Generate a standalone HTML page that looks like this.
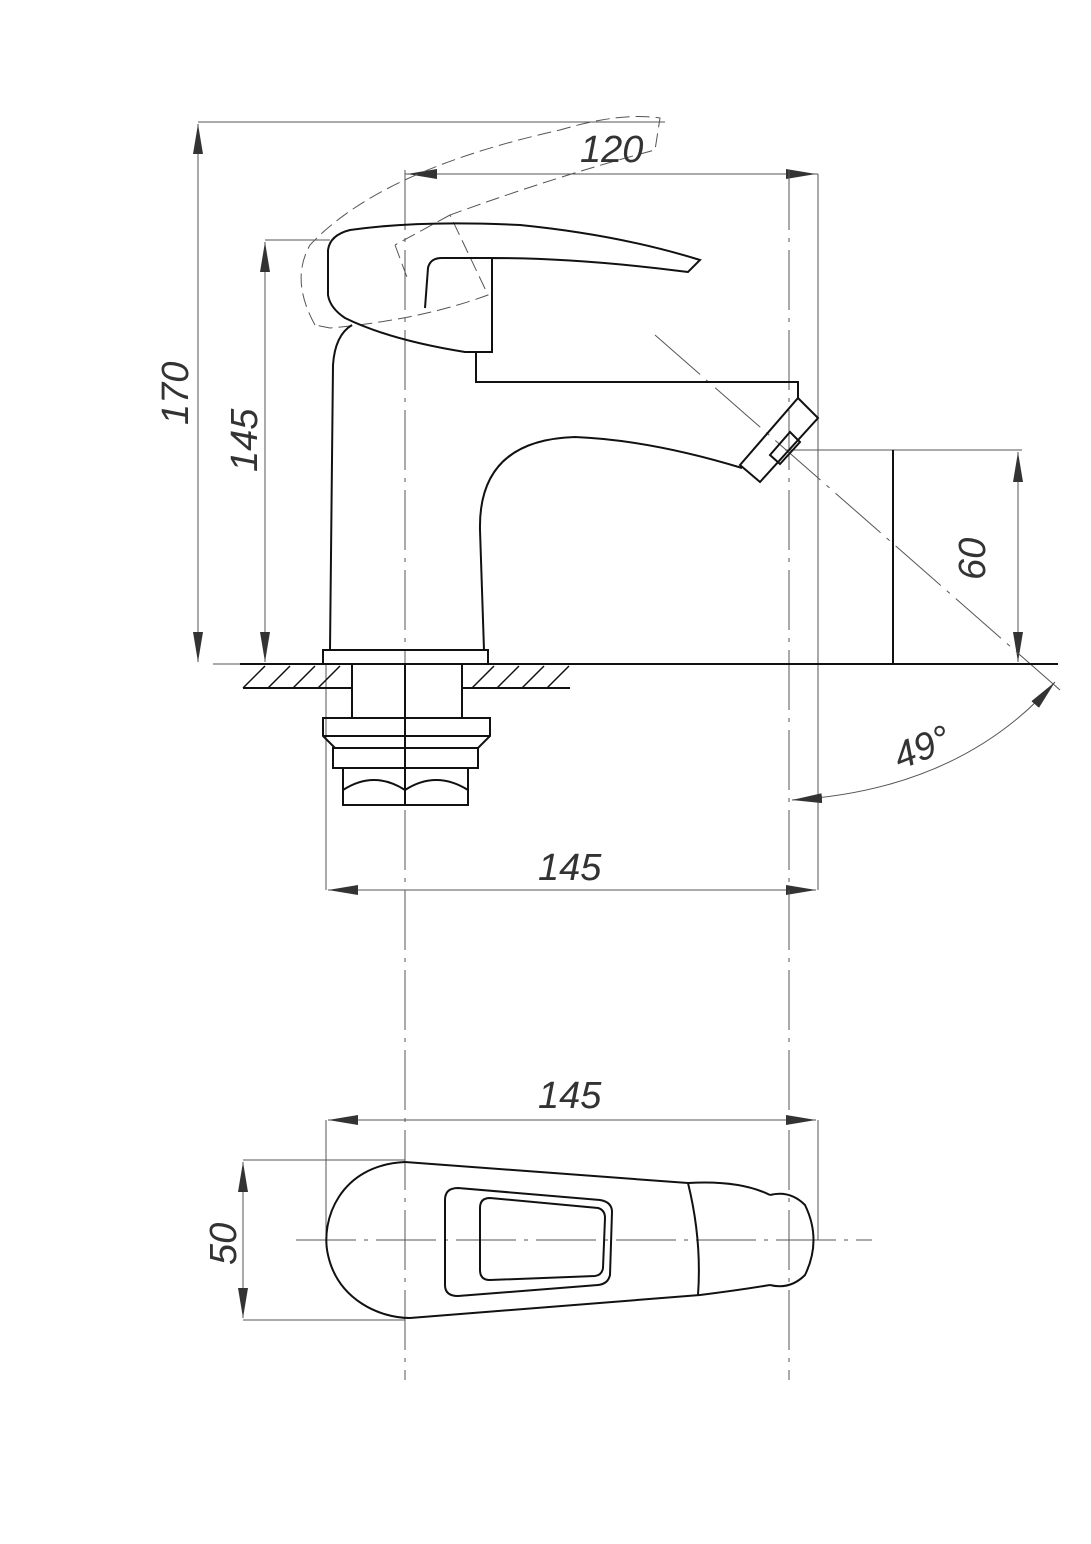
<!DOCTYPE html>
<html><head><meta charset="utf-8"><style>
html,body{margin:0;padding:0;background:#fff}
svg{display:block}
text{font-family:"Liberation Sans",sans-serif;font-style:italic;fill:#333;font-size:38px}
</style></head><body>
<svg width="1091" height="1544" viewBox="0 0 1091 1544" xmlns="http://www.w3.org/2000/svg">
<defs>
<marker id="a" viewBox="0 0 30 10" refX="30" refY="5" markerWidth="30" markerHeight="10" markerUnits="userSpaceOnUse" orient="auto-start-reverse"><path d="M0,0 L30,5 L0,10 z" fill="#333"/></marker>
</defs>
<g stroke="#555" stroke-width="1" fill="none">
<!-- extension lines -->
<line x1="198" y1="122" x2="665" y2="122"/>
<line x1="265" y1="240" x2="330" y2="240"/>
<line x1="405" y1="174" x2="818" y2="174"/>
<line x1="818" y1="174" x2="818" y2="890"/>
<line x1="326" y1="664" x2="326" y2="890"/>
<line x1="785" y1="450" x2="1022" y2="450"/>
<line x1="213" y1="664" x2="240" y2="664"/>
<!-- dims -->
<line x1="198" y1="124" x2="198" y2="662" marker-start="url(#a)" marker-end="url(#a)"/>
<line x1="265" y1="242" x2="265" y2="662" marker-start="url(#a)" marker-end="url(#a)"/>
<line x1="407" y1="174" x2="816" y2="174" marker-start="url(#a)" marker-end="url(#a)"/>
<line x1="1018" y1="452" x2="1018" y2="662" marker-start="url(#a)" marker-end="url(#a)"/>
<line x1="328" y1="890" x2="816" y2="890" marker-start="url(#a)" marker-end="url(#a)"/>
<path d="M792,800 Q960,790 1055,682" marker-start="url(#a)" marker-end="url(#a)"/>
<line x1="655" y1="335" x2="1060" y2="690" stroke-dasharray="60,8,4,8"/>
<!-- center lines -->
<line x1="405" y1="170" x2="405" y2="1380" stroke-dasharray="60,8,4,8"/>
<line x1="789" y1="170" x2="789" y2="1380" stroke-dasharray="60,8,4,8"/>
<!-- top view dims -->
<line x1="326" y1="1120" x2="326" y2="1240"/>
<line x1="818" y1="1120" x2="818" y2="1240"/>
<line x1="328" y1="1120" x2="816" y2="1120" marker-start="url(#a)" marker-end="url(#a)"/>
<line x1="243" y1="1160" x2="405" y2="1160"/>
<line x1="243" y1="1320" x2="405" y2="1320"/>
<line x1="243" y1="1162" x2="243" y2="1318" marker-start="url(#a)" marker-end="url(#a)"/>
<line x1="296" y1="1240" x2="872" y2="1240" stroke-dasharray="60,8,4,8"/>
<!-- dashed handle -->
<path d="M315,325 Q290,280 310,245 Q380,170 560,130 Q620,112 660,118 L655,150 Q560,175 450,215 L488,295 Q420,320 330,328 Z" stroke-dasharray="14,6"/>
<path d="M395,245 L408,280 M450,215 L395,245" stroke-dasharray="14,6"/>
</g>
<g stroke="#111" stroke-width="2" fill="none">
<line x1="240" y1="664" x2="1058" y2="664"/>
<line x1="893" y1="450" x2="893" y2="664"/>
<!-- hatch -->
<line x1="243" y1="688" x2="352" y2="688"/><line x1="462" y1="688" x2="570" y2="688"/>
<g stroke-width="1.5">
<line x1="243" y1="688" x2="265" y2="666"/><line x1="268" y1="688" x2="290" y2="666"/><line x1="293" y1="688" x2="315" y2="666"/><line x1="318" y1="688" x2="340" y2="666"/>
<line x1="472" y1="688" x2="494" y2="666"/><line x1="497" y1="688" x2="519" y2="666"/><line x1="522" y1="688" x2="544" y2="666"/><line x1="547" y1="688" x2="569" y2="666"/>
</g>
<!-- base flange -->
<rect x="323" y="650" width="165" height="14"/>
<!-- body -->
<path d="M330,650 L333,365 Q335,335 352,325"/>
<path d="M484,650 L480,530 Q478,440 575,437 Q650,440 742,468"/>
<path d="M476,352 L476,382 L798,382 L798,398"/>
<!-- nozzle -->
<path d="M740,465 L798,398 L818,418 L760,482 Z"/>
<path d="M770,455 L790,432 L800,442 L780,464 Z"/>
<!-- handle -->
<path d="M328,250 Q330,235 350,230 Q420,220 520,225 Q620,235 700,260 L688,272 Q580,258 492,258 L492,352 L465,352 Q390,340 345,318 Q330,308 328,295 Z"/>
<path d="M425,308 L428,268 Q430,258 442,258 L492,258"/>
<!-- below floor -->
<rect x="352" y="664" width="110" height="54"/>
<line x1="405" y1="664" x2="405" y2="805"/>
<path d="M323,718 L490,718 L490,736 L478,748 L335,748 L323,736 Z"/>
<line x1="323" y1="736" x2="490" y2="736"/>
<rect x="333" y="748" width="145" height="20"/>
<path d="M343,768 L343,805 L468,805 L468,768"/>
<path d="M343,790 Q374,770 405,790 Q436,770 468,790"/>
<!-- top view -->
<path d="M405,1162 C340,1165 320,1220 328,1255 C338,1300 380,1318 410,1318 L700,1295 Q740,1290 770,1285"/>
<path d="M405,1162 L688,1183 Q740,1180 770,1195"/>
<path d="M688,1183 Q702,1240 698,1295"/>
<path d="M770,1195 Q790,1190 805,1205 Q822,1240 805,1275 Q790,1290 770,1285"/>
<path d="M458,1188 L600,1200 Q612,1202 612,1212 L610,1275 Q608,1284 598,1285 L458,1296 Q445,1296 445,1285 L445,1200 Q445,1188 458,1188 Z"/>
<path d="M490,1198 L598,1208 Q605,1210 605,1218 L603,1268 Q602,1275 595,1276 L490,1280 Q480,1280 480,1270 L480,1208 Q480,1198 490,1198 Z"/>
</g>
<text x="0" y="0" transform="translate(188,425) rotate(-90)">170</text>
<text x="0" y="0" transform="translate(257,472) rotate(-90)">145</text>
<text x="580" y="162">120</text>
<text x="0" y="0" transform="translate(985,580) rotate(-90)">60</text>
<text x="0" y="0" transform="translate(900,770) rotate(-22)">49°</text>
<text x="538" y="880">145</text>
<text x="538" y="1108">145</text>
<text x="0" y="0" transform="translate(236,1265) rotate(-90)">50</text>
</svg>
</body></html>
